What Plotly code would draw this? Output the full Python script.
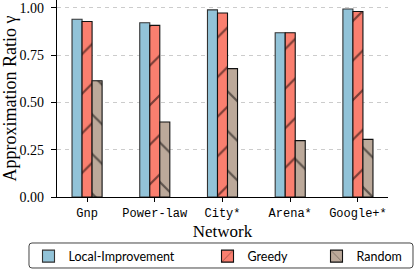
import plotly.graph_objects as go

networks = ["Gnp", "Power-law", "City*", "Arena*", "Google+*"]
local_improvement = [0.940, 0.922, 0.990, 0.869, 0.994]
greedy = [0.928, 0.908, 0.973, 0.869, 0.981]
random_vals = [0.615, 0.397, 0.679, 0.298, 0.305]
y_ticks = [0.0, 0.25, 0.5, 0.75, 1.0]

x = list(range(len(networks)))

fig = go.Figure()
fig.add_trace(go.Bar(
    x=x, y=local_improvement, name="Local-Improvement", legend="legend",
    marker=dict(color="#92c3d8", line=dict(color="#333333", width=1.1)),
))
fig.add_trace(go.Bar(
    x=x, y=greedy, name="Greedy", legend="legend2",
    marker=dict(color="#fa7f6f", line=dict(color="#111111", width=1.1),
                pattern=dict(shape="/", fgcolor="black", size=28, solidity=0.08)),
))
fig.add_trace(go.Bar(
    x=x, y=random_vals, name="Random", legend="legend3",
    marker=dict(color="#bca99a", line=dict(color="#111111", width=1.1),
                pattern=dict(shape="\\", fgcolor="black", size=28, solidity=0.08)),
))

leg_common = dict(
    orientation="h", xanchor="left", y=-0.226, yanchor="top",
    font=dict(family="Lato", size=12.5, color="black"),
    borderwidth=0, bgcolor="rgba(0,0,0,0)",
)
# legend frame (rounded box), in paper coordinates
bx0, bx1, by0, by1 = -0.0846, 1.0755, -0.3604, -0.2335
rx, ry = 0.009, 0.0152
frame_path = (
    f"M{bx0+rx},{by1} L{bx1-rx},{by1} Q{bx1},{by1} {bx1},{by1-ry} "
    f"L{bx1},{by0+ry} Q{bx1},{by0} {bx1-rx},{by0} "
    f"L{bx0+rx},{by0} Q{bx0},{by0} {bx0},{by0+ry} "
    f"L{bx0},{by1-ry} Q{bx0},{by1} {bx0+rx},{by1} Z"
)

fig.update_layout(
    width=415, height=269,
    margin=dict(l=57, r=27, t=0, b=72, autoexpand=False),
    paper_bgcolor="white", plot_bgcolor="white",
    barmode="group", bargap=0.556, bargroupgap=0,
    showlegend=True,
    legend=dict(x=-0.0861, **leg_common),
    legend2=dict(x=0.4547, **leg_common),
    legend3=dict(x=0.784, **leg_common),
    shapes=[dict(type="path", xref="paper", yref="paper", path=frame_path,
                 line=dict(color="#444444", width=1), fillcolor="rgba(0,0,0,0)",
                 layer="below")],
    font=dict(family="Liberation Serif", color="black"),
)
fig.update_xaxes(
    range=[-0.444, 4.444], tickvals=x, ticktext=networks,
    tickfont=dict(family="Liberation Mono", size=12, color="black"),
    ticks="outside", ticklen=4, tickwidth=1.2, tickcolor="black",
    showline=True, linecolor="black", linewidth=1.2,
    showgrid=False, zeroline=False,
    title=dict(text="Network", font=dict(family="Liberation Serif", size=17, color="black"), standoff=5),
)
fig.update_yaxes(
    range=[0, 1.042], tickvals=y_ticks, tickformat=".2f",
    tickfont=dict(family="Liberation Serif", size=14, color="black"),
    ticks="outside", ticklen=5, tickwidth=1.2, tickcolor="black", ticklabelstandoff=4,
    showline=True, linecolor="black", linewidth=1.2,
    showgrid=True, gridcolor="#cccccc", gridwidth=1, griddash="4px,4px",
    zeroline=False,
    title=dict(text="Approximation Ratio γ", font=dict(family="Liberation Serif", size=18, color="black"), standoff=4),
)

fig.write_html("out.html", config={"displayModeBar": False},
               post_script="document.body.style.margin='0';")
